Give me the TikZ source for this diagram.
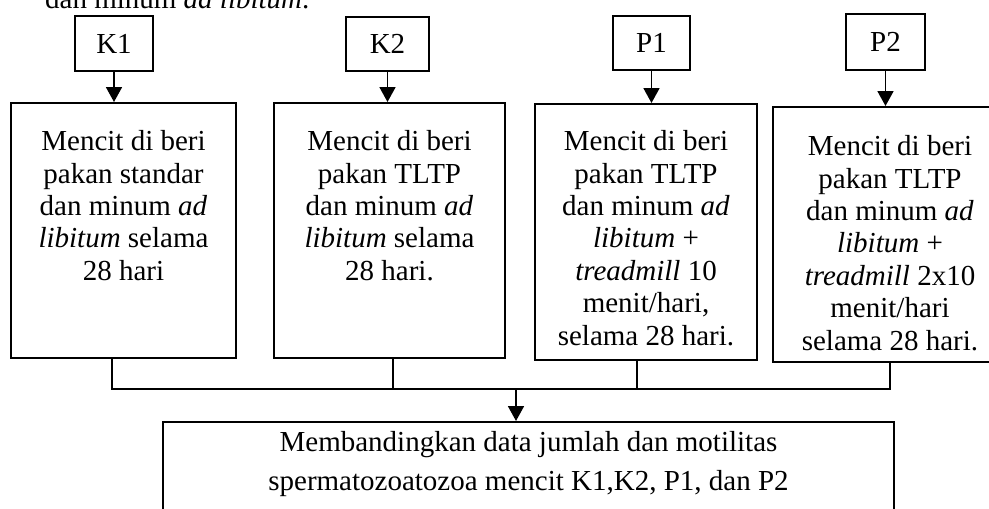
\documentclass[tikz,border=0pt]{standalone}
\usepackage{fontspec}
\setmainfont{Liberation Serif}
\usetikzlibrary{arrows.meta}
\tikzset{
  tfont/.style={font=\fontsize{29}{32.4}\selectfont},
  smallbox/.style={draw, line width=2pt, inner sep=0pt, tfont},
  bigbox/.style={draw, line width=2pt, inner sep=0pt},
  boxtext/.style={align=center, inner sep=0pt, anchor=north, tfont},
  conn/.style={line width=1.6pt},
  arr/.style={line width=1.8pt, -{Triangle[width=16pt,length=15pt]}}
}
\begin{document}
\begin{tikzpicture}[x=1pt,y=-1pt]
\useasboundingbox (0,0) rectangle (989,509);
\clip (0,0) rectangle (989,509);
% heading text, cut off at the top edge as in the reference
\node[anchor=base west, inner sep=0pt, tfont] (head) at (45,8) {dan minum \textit{ad libitum}.};
% small boxes
\node[smallbox, minimum width=78pt, minimum height=55pt] (k1) at (114,43.5) {K1};
\node[smallbox, minimum width=83pt, minimum height=54pt] (k2) at (387.5,44) {K2};
\node[smallbox, minimum width=77pt, minimum height=54pt] (p1) at (651.5,43) {P1};
\node[smallbox, minimum width=79pt, minimum height=56pt] (p2) at (885.5,42) {P2};
% big boxes
\node[bigbox, minimum width=225pt, minimum height=255pt] (b1) at (123.5,230.5) {};
\node[bigbox, minimum width=231pt, minimum height=255pt] (b2) at (389.5,230.5) {};
\node[bigbox, minimum width=222pt, minimum height=256pt] (b3) at (646,232) {};
\node[bigbox, minimum width=234pt, minimum height=255pt] (b4) at (890,234.5) {};
\node[bigbox, minimum width=731pt, minimum height=138pt] (b5) at (528.5,491) {};
% texts
\node[boxtext] (t1) at (123.5,130.4) {Mencit di beri\\pakan standar\\dan minum \textit{ad}\\\textit{libitum} selama\\28 hari};
\node[boxtext] (t2) at (389.5,130.4) {Mencit di beri\\pakan TLTP\\dan minum \textit{ad}\\\textit{libitum} selama\\28 hari.};
\node[boxtext] (t3) at (646,130.4) {Mencit di beri\\pakan TLTP\\dan minum \textit{ad}\\\textit{libitum} +\\\textit{treadmill} 10\\menit/hari,\\selama 28 hari.};
\node[boxtext] (t4) at (890,135.4) {Mencit di beri\\pakan TLTP\\dan minum \textit{ad}\\\textit{libitum} +\\\textit{treadmill} 2x10\\menit/hari\\selama 28 hari.};
\node[align=center, inner sep=0pt, anchor=north, font=\fontsize{29}{39}\selectfont] (t5) at (528.5,431) {Membandingkan data jumlah dan motilitas\\spermatozoatozoa mencit K1,K2, P1, dan P2};
% arrows into the boxes
\draw[arr] (k1.south) -- (k1.south |- b1.north);
\draw[arr] (k2.south) -- (k2.south |- b2.north);
\draw[arr] (p1.south) -- (p1.south |- b3.north);
\draw[arr] (p2.south) -- (p2.south |- b4.north);
% collecting bus
\coordinate (busL) at (112,389);
\coordinate (bus2) at (393,389);
\coordinate (bus3) at (637,389);
\coordinate (busR) at (890,389);
\coordinate (busA) at (516,389);
\draw[conn] (b1.south -| busL) -- (busL) -- (busR) -- (b4.south -| busR);
\draw[conn] (b2.south -| bus2) -- (bus2);
\draw[conn] (b3.south -| bus3) -- (bus3);
\draw[arr] (busA) -- (busA |- b5.north);
\end{tikzpicture}
\end{document}
